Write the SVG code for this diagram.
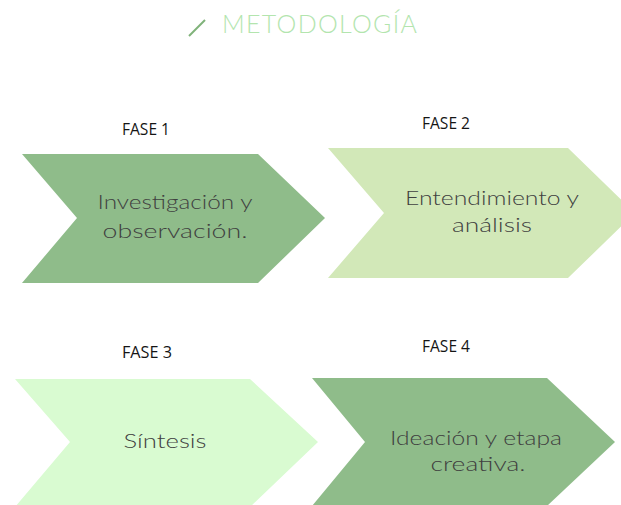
<svg xmlns="http://www.w3.org/2000/svg" width="621" height="505" viewBox="0 0 621 505">
<style>
.fase{font-family:"Open Sans","Liberation Sans",sans-serif;font-size:16px;font-weight:500;fill:#151515;}
.body{font-family:"Lato","Liberation Sans",sans-serif;font-size:20px;font-weight:300;fill:#404040;text-anchor:middle;}
.dark{fill:#8fbc8a;}
.mid{fill:#d2e8b8;}
.light{fill:#d9fbd1;}
</style>
<rect width="621" height="505" fill="#ffffff"/>
<g id="title">
<line x1="189" y1="36" x2="205" y2="20" stroke="#7fb27a" stroke-width="2"/>
<text x="222" y="33" font-family="Lato,'Liberation Sans',sans-serif" font-weight="300" font-size="25" fill="#b3e5ae" textLength="195" lengthAdjust="spacing">METODOLOGÍA</text>
</g>
<g id="fase1">
<text class="fase" x="122" y="135" textLength="48" lengthAdjust="spacingAndGlyphs">FASE 1</text>
<polygon class="dark" points="22,154 258,154 325,218 258,283 22,283 77,218"/>
<text class="body" x="175" y="209" textLength="155" lengthAdjust="spacingAndGlyphs">Investigación y</text>
<text class="body" x="175" y="238" textLength="145" lengthAdjust="spacingAndGlyphs">observación.</text>
</g>
<g id="fase2">
<text class="fase" x="422" y="129" textLength="48" lengthAdjust="spacingAndGlyphs">FASE 2</text>
<polygon class="mid" points="328,148 568,148 635,213 568,278 328,278 384,213"/>
<text class="body" x="492" y="205" textLength="174" lengthAdjust="spacingAndGlyphs">Entendimiento y</text>
<text class="body" x="492" y="232" textLength="80" lengthAdjust="spacingAndGlyphs">análisis</text>
</g>
<g id="fase3">
<text class="fase" x="122" y="358" textLength="50" lengthAdjust="spacingAndGlyphs">FASE 3</text>
<polygon class="light" points="15,379 250,379 318,442 250,507 15,507 70,442"/>
<text class="body" x="165" y="448" textLength="83" lengthAdjust="spacingAndGlyphs">Síntesis</text>
</g>
<g id="fase4">
<text class="fase" x="422" y="352" textLength="48" lengthAdjust="spacingAndGlyphs">FASE 4</text>
<polygon class="dark" points="312,378 547,378 615,442 547,506 312,506 365,442"/>
<text class="body" x="476" y="445" textLength="172" lengthAdjust="spacingAndGlyphs">Ideación y etapa</text>
<text class="body" x="478" y="471" textLength="95" lengthAdjust="spacingAndGlyphs">creativa.</text>
</g>
<g id="connectors"></g>
</svg>
